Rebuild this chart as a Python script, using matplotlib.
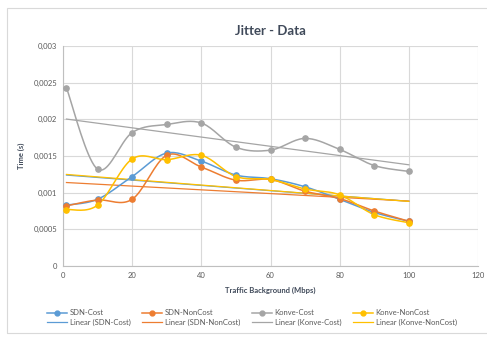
import numpy as np
import matplotlib
matplotlib.use("Agg")
import matplotlib.pyplot as plt
from matplotlib.ticker import FuncFormatter
from matplotlib.lines import Line2D
from matplotlib.patches import Rectangle

plt.rcParams['font.family'] = ['Lato', 'DejaVu Sans']

# data
traffic = [1, 10, 20, 30, 40, 50, 60, 70, 80, 90, 100]
sdn_cost = [0.00083, 0.00091, 0.00122, 0.00154, 0.00143, 0.00124, 0.00119, 0.00108, 0.00091, 0.00073, 0.00061]
sdn_noncost = [0.00082, 0.00090, 0.00091, 0.00151, 0.00135, 0.00117, 0.00118, 0.00102, 0.00092, 0.00075, 0.00061]
konve_cost = [0.00243, 0.00132, 0.00182, 0.00193, 0.00195, 0.00162, 0.00158, 0.00174, 0.00159, 0.00137, 0.00129]
konve_noncost = [0.00077, 0.00083, 0.00146, 0.00145, 0.00151, 0.00122, 0.00118, 0.00105, 0.00097, 0.00070, 0.00059]

names = ["SDN-Cost", "SDN-NonCost", "Konve-Cost", "Konve-NonCost"]
series = [sdn_cost, sdn_noncost, konve_cost, konve_noncost]
colors = ["#5B9BD5", "#ED7D31", "#A5A5A5", "#FFC000"]


def smooth(x, y, n=20):
    # catmull-rom curve through the points, like Excel's smoothed line
    x = np.asarray(x, float)
    y = np.asarray(y, float)
    px = np.concatenate([[x[0]], x, [x[-1]]])
    py = np.concatenate([[y[0]], y, [y[-1]]])
    xs, ys = [], []
    t = np.linspace(0, 1, n)
    for i in range(1, len(px) - 2):
        for p, out in ((px, xs), (py, ys)):
            p0, p1, p2, p3 = p[i - 1], p[i], p[i + 1], p[i + 2]
            m1 = (p2 - p0) / 2
            m2 = (p3 - p1) / 2
            h00 = 2 * t**3 - 3 * t**2 + 1
            h10 = t**3 - 2 * t**2 + t
            h01 = -2 * t**3 + 3 * t**2
            h11 = t**3 - t**2
            out.extend(h00 * p1 + h10 * m1 + h01 * p2 + h11 * m2)
    return xs, ys


fig = plt.figure(figsize=(4.87, 3.38), dpi=100)
fig.patches.append(Rectangle((7 / 487, 5 / 338), 1.0, 325 / 338, transform=fig.transFigure,
                             fill=False, edgecolor="#D9D9D9", linewidth=0.8))
ax = fig.add_axes([63 / 487, 72 / 338, 415 / 487, 220 / 338])

handles_s, handles_l = [], []
xarr = np.array(traffic, float)
for name, ys, c in zip(names, series, colors):
    sx, sy = smooth(traffic, ys)
    ax.plot(sx, sy, color=c, linewidth=1.1, zorder=3)
    ax.plot(traffic, ys, 'o', color=c, markersize=3.8, zorder=4)
    k, b = np.polyfit(xarr, ys, 1)
    ax.plot([traffic[0], traffic[-1]], [k * traffic[0] + b, k * traffic[-1] + b],
            color=c, linewidth=0.9, zorder=2)
    handles_s.append(Line2D([], [], color=c, marker='o', markersize=3.5, linewidth=1.1, label=name))
    handles_l.append(Line2D([], [], color=c, linewidth=0.9, label="Linear (%s)" % name))

ax.set_xlim(0, 120)
ax.set_ylim(0, 0.003)
ax.set_xticks(range(0, 121, 20))
ax.set_yticks(np.arange(0, 0.0031, 0.0005))
ax.yaxis.set_major_formatter(FuncFormatter(lambda v, p: "0" if v == 0 else ("%g" % round(v, 4)).replace(".", ",")))
ax.grid(True, color="#D9D9D9", linewidth=0.8)
ax.set_axisbelow(True)
for s in ["top", "right"]:
    ax.spines[s].set_visible(False)
for s in ["left", "bottom"]:
    ax.spines[s].set_color("#BFBFBF")
ax.tick_params(length=0, labelsize=5.5, labelcolor="#595959", pad=4)

ax.set_title("Jitter - Data", fontsize=9.5, fontweight="bold", color="#404A5A", pad=8)
ax.set_ylabel("Time (s)", fontsize=5.5, fontweight="bold", color="#404A5A", labelpad=6)
ax.set_xlabel("Traffic Background (Mbps)", fontsize=5.5, fontweight="bold", color="#404A5A", labelpad=6)

hs = []
for a, b in zip(handles_s, handles_l):
    hs += [a, b]
fig.legend(handles=hs, ncol=4, loc="lower center", bbox_to_anchor=(0.517, 0.015), frameon=False,
           fontsize=5.5, labelcolor="#595959", handlelength=2.6, columnspacing=1.5,
           handletextpad=0.4, labelspacing=0.35)

fig.savefig("out.png", dpi=100)
